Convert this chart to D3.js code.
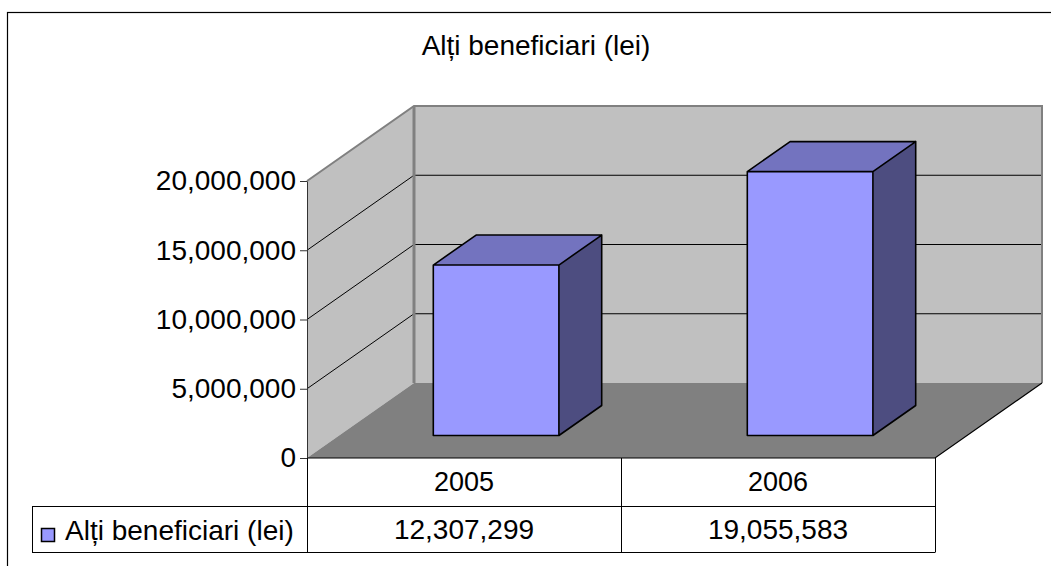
<!DOCTYPE html>
<html>
<head>
<meta charset="utf-8">
<script src="https://cdn.jsdelivr.net/npm/d3@7"></script>
<style>
  body { margin: 0; background: #fff; }
  svg text { font-family: "Liberation Sans", Arial, sans-serif; fill: #000; }
</style>
</head>
<body>
<div id="chart"></div>
<script>
var w = 1051;
var h = 566;

var title = "Alți beneficiari (lei)";
var seriesName = "Alți beneficiari (lei)";
var years = ["2005", "2006"];
var values = [12307299, 19055583];
var tickValues = [0, 5000000, 10000000, 15000000, 20000000];

var formatValue = d3.format(",");

// depth offset of the 3d box (back wall relative to front plane)
var depthX = 107;
var depthY = -75;

var svg = d3.select("#chart")
    .append("svg")
    .attr("width", w)
    .attr("height", h);

// outer frame (runs off the right and bottom of the picture)
svg.append("rect")
    .attr("x", 7.5)
    .attr("y", 12.5)
    .attr("width", 1200)
    .attr("height", 700)
    .attr("fill", "none")
    .attr("stroke", "#000")
    .attr("stroke-width", 1.2);

svg.append("text")
    .attr("x", 536)
    .attr("y", 55)
    .attr("text-anchor", "middle")
    .style("font-size", "28px")
    .text(title);

var x = d3.scaleBand()
    .domain(years)
    .range([307, 935])
    .paddingInner(0.6)
    .paddingOuter(0.3);

var y = d3.scaleLinear()
    .domain([0, 20000000])
    .range([458, 181]);

// project a front-plane point into depth z (0 = front, 1 = back)
function p(px, py, z) {
    return [px + z * depthX, py + z * depthY];
}
function poly(pts) {
    return pts.map(function(d) { return d.join(","); }).join(" ");
}

var x0 = x.range()[0], x1 = x.range()[1];
var yTop = y(20000000), yBase = y(0);

// back wall
svg.append("polygon")
    .attr("points", poly([p(x0, yTop, 1), p(x1, yTop, 1), p(x1, yBase, 1), p(x0, yBase, 1)]))
    .attr("fill", "#c0c0c0");

// left wall
svg.append("polygon")
    .attr("points", poly([p(x0, yTop, 0), p(x0, yTop, 1), p(x0, yBase, 1), p(x0, yBase, 0)]))
    .attr("fill", "#c0c0c0");

// gridlines
var grid = svg.append("g");
tickValues.slice(1, -1).forEach(function(v) {
    var a = p(x0, y(v), 0), b = p(x0, y(v), 1), c = p(x1, y(v), 1);
    grid.append("polyline")
        .attr("points", poly([a, b, c]))
        .attr("fill", "none")
        .attr("stroke", "#000")
        .attr("stroke-width", 1);
});

// wall edges
svg.append("polyline")
    .attr("points", poly([p(x0, yTop, 0), p(x0, yTop, 1), p(x1, yTop, 1), p(x1, yBase, 1)]))
    .attr("fill", "none")
    .attr("stroke", "#808080")
    .attr("stroke-width", 2);
svg.append("line")
    .attr("x1", p(x0, yTop, 1)[0]).attr("y1", p(x0, yTop, 1)[1])
    .attr("x2", p(x0, yBase, 1)[0]).attr("y2", p(x0, yBase, 1)[1])
    .attr("stroke", "#808080")
    .attr("stroke-width", 3);

// floor
svg.append("polygon")
    .attr("points", poly([p(x0, yBase, 0), p(x0, yBase, 1), p(x1, yBase, 1), p(x1, yBase, 0)]))
    .attr("fill", "#808080");
svg.append("polyline")
    .attr("points", poly([p(x0, yBase, 0), p(x1, yBase, 0), p(x1, yBase, 1)]))
    .attr("fill", "none")
    .attr("stroke", "#000")
    .attr("stroke-width", 1.2);

// bars
var zf = 0.3, zb = 0.7;
var bars = svg.selectAll(".bar")
    .data(years.map(function(d, i) { return { year: d, value: values[i] }; }))
    .enter()
    .append("g")
    .attr("class", "bar");

bars.append("polygon") // side
    .attr("points", function(d) {
        var r = x(d.year) + x.bandwidth();
        return poly([p(r, y(d.value), zf), p(r, y(d.value), zb), p(r, y(0), zb), p(r, y(0), zf)]);
    })
    .attr("fill", "#4d4d80");

bars.append("polygon") // top
    .attr("points", function(d) {
        var l = x(d.year), r = l + x.bandwidth();
        return poly([p(l, y(d.value), zf), p(l, y(d.value), zb), p(r, y(d.value), zb), p(r, y(d.value), zf)]);
    })
    .attr("fill", "#7373bf");

bars.append("polygon") // front
    .attr("points", function(d) {
        var l = x(d.year), r = l + x.bandwidth();
        return poly([p(l, y(d.value), zf), p(r, y(d.value), zf), p(r, y(0), zf), p(l, y(0), zf)]);
    })
    .attr("fill", "#9999ff");

bars.append("polyline") // outline
    .attr("points", function(d) {
        var l = x(d.year), r = l + x.bandwidth(), t = y(d.value), b = y(0);
        return poly([p(l, b, zf), p(l, t, zf), p(l, t, zb), p(r, t, zb), p(r, b, zb), p(r, b, zf),
                     p(l, b, zf), p(l, t, zf), p(r, t, zf), p(r, t, zb), p(r, t, zf), p(r, b, zf)]);
    })
    .attr("fill", "none")
    .attr("stroke", "#000")
    .attr("stroke-width", 1.6)
    .attr("stroke-linejoin", "round");

// y axis
var yAxis = d3.axisLeft(y)
    .tickValues(tickValues)
    .tickFormat(formatValue)
    .tickSize(7)
    .tickSizeOuter(0)
    .tickPadding(4);

var axisG = svg.append("g")
    .attr("transform", "translate(" + x0 + ",0)")
    .call(yAxis);
axisG.selectAll("text")
    .style("font-family", "\"Liberation Sans\", Arial, sans-serif")
    .style("font-size", "28px")
    .attr("fill", "#000");
axisG.select(".domain").attr("stroke", "#333");
axisG.selectAll(".tick line").attr("stroke", "#333");

// data table
var rowTop = 458, rowMid = 506, rowBot = 552, legendLeft = 32;
var table = svg.append("g")
    .attr("fill", "none")
    .attr("stroke", "#000")
    .attr("stroke-width", 1);

var colEdges = [x0].concat(years.map(function(d) { return x(d) - x.step() * x.paddingInner() / 2 + x.step(); }));
colEdges[colEdges.length - 1] = x1;

colEdges.forEach(function(cx) {
    table.append("line")
        .attr("x1", cx + 0.5).attr("x2", cx + 0.5)
        .attr("y1", rowTop).attr("y2", rowBot);
});
table.append("line")
    .attr("x1", legendLeft).attr("x2", x1 + 0.5)
    .attr("y1", rowMid + 0.5).attr("y2", rowMid + 0.5);
table.append("line")
    .attr("x1", legendLeft).attr("x2", x1 + 0.5)
    .attr("y1", rowBot + 0.5).attr("y2", rowBot + 0.5);
table.append("line")
    .attr("x1", legendLeft + 0.5).attr("x2", legendLeft + 0.5)
    .attr("y1", rowMid).attr("y2", rowBot);

svg.selectAll(".cat")
    .data(years)
    .enter()
    .append("text")
    .attr("class", "cat")
    .attr("x", function(d) { return x(d) + x.bandwidth() / 2; })
    .attr("y", 491)
    .attr("text-anchor", "middle")
    .style("font-size", "27px")
    .text(function(d) { return d; });

svg.selectAll(".val")
    .data(values)
    .enter()
    .append("text")
    .attr("class", "val")
    .attr("x", function(d, i) { return x(years[i]) + x.bandwidth() / 2; })
    .attr("y", 539)
    .attr("text-anchor", "middle")
    .style("font-size", "28px")
    .text(function(d) { return formatValue(d); });

svg.append("rect")
    .attr("x", 41.5)
    .attr("y", 528.5)
    .attr("width", 13)
    .attr("height", 13)
    .attr("fill", "#9999ff")
    .attr("stroke", "#000")
    .attr("stroke-width", 1.5);

svg.append("text")
    .attr("x", 65)
    .attr("y", 540)
    .style("font-size", "28px")
    .text(seriesName);
</script>
</body>
</html>
